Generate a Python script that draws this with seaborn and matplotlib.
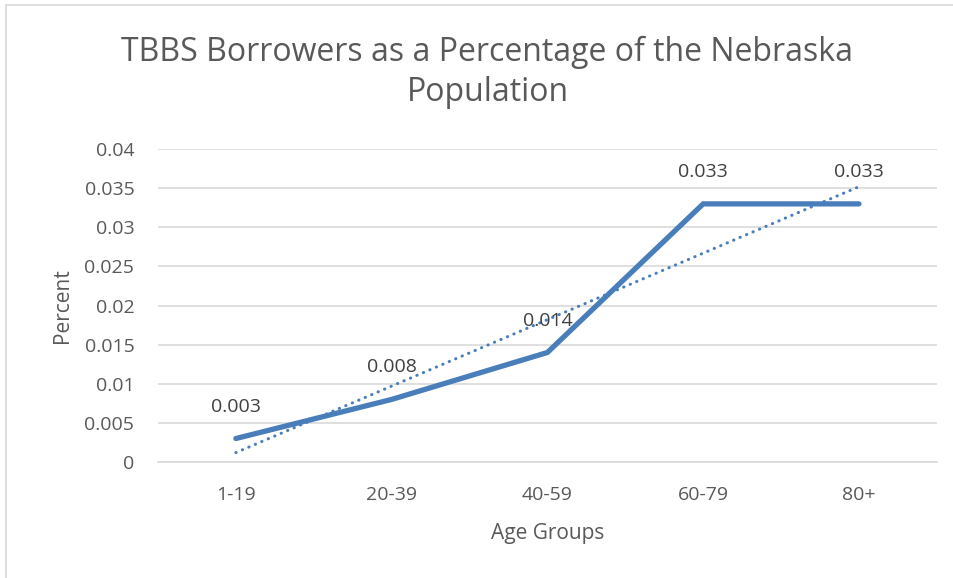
import numpy as np
import matplotlib
matplotlib.use("Agg")
import matplotlib.pyplot as plt
import seaborn as sns
from matplotlib.lines import Line2D

# data
age_groups = ["1-19", "20-39", "40-59", "60-79", "80+"]
pct = [0.003, 0.008, 0.014, 0.033, 0.033]
y_ticks = [0, 0.005, 0.01, 0.015, 0.02, 0.025, 0.03, 0.035, 0.04]
y_tick_labels = ["0", "0.005", "0.01", "0.015", "0.02", "0.025", "0.03", "0.035", "0.04"]

sns.set_style("white")
plt.rcParams["font.family"] = ["Open Sans", "DejaVu Sans"]

blue = "#4a7ebb"
text_col = "#595959"
grid_col = "#d9d9d9"

fig = plt.figure(figsize=(9.54, 5.78), dpi=100)
ax = fig.add_axes([0.1656, 0.2007, 0.982 - 0.1656, 0.742 - 0.2007])

x = np.arange(len(age_groups))
sns.lineplot(x=x, y=pct, ax=ax, color=blue, linewidth=3.8,
             solid_capstyle="round", solid_joinstyle="miter")

# linear trendline (Excel style) fitted to the series
slope, icpt = np.polyfit(x + 1, pct, 1)
trend = slope * (x + 1) + icpt
sns.lineplot(x=x, y=trend, ax=ax, color=blue, linewidth=2.2,
             linestyle=(0, (0.1, 2.2)), dash_capstyle="round")

for xi, v in zip(x, pct):
    ax.annotate(f"{v:g}", (xi, v), xytext=(0, 23), textcoords="offset points",
                ha="center", va="center", fontsize=14, color="#404040")

ax.set_xlim(-0.5, len(age_groups) - 0.5)
ax.set_ylim(0, 0.04)
ax.set_xticks(x)
ax.set_xticklabels(age_groups)
ax.set_yticks(y_ticks)
ax.set_yticklabels(y_tick_labels)
ax.tick_params(axis="both", length=0, labelsize=14, colors=text_col)
ax.tick_params(axis="x", pad=17)
ax.tick_params(axis="y", pad=17)
ax.grid(axis="y", color=grid_col, linewidth=1.2)
ax.set_axisbelow(True)
for s in ["top", "right", "left"]:
    ax.spines[s].set_visible(False)
ax.spines["bottom"].set_color(grid_col)
ax.spines["bottom"].set_linewidth(1.2)

ax.set_xlabel("Age Groups", fontsize=15, color=text_col, labelpad=14)
ax.set_ylabel("Percent", fontsize=15, color=text_col, labelpad=8)

fig.text(0.511, 0.875, "TBBS Borrowers as a Percentage of the Nebraska\nPopulation",
         ha="center", va="center", fontsize=23, color=text_col, linespacing=1.3)

# outer chart border (only left and top visible in the crop)
fig.add_artist(Line2D([0.006, 0.006], [0, 0.992], transform=fig.transFigure,
                      color="#d9d9d9", linewidth=1.2))
fig.add_artist(Line2D([0.006, 1], [0.992, 0.992], transform=fig.transFigure,
                      color="#d9d9d9", linewidth=1.2))

fig.savefig("out.png", dpi=100)
